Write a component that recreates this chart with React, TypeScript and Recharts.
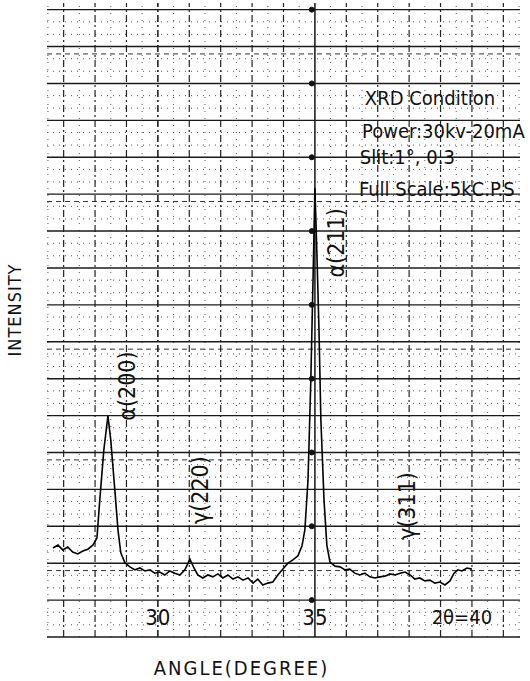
import {
  LineChart,
  Line,
  XAxis,
  YAxis,
  ReferenceLine,
  ReferenceDot,
} from "recharts";

// 2θ (degrees) and recorder intensity (in chart divisions)
const angles = [
  26.66, 26.82, 26.97, 27.13, 27.29, 27.45, 27.61, 27.77, 27.93, 28.06,
  28.15, 28.28, 28.41, 28.5, 28.63, 28.73, 28.82, 28.95, 29.11, 29.27,
  29.43, 29.59, 29.75, 29.9, 30.06, 30.22, 30.38, 30.54, 30.7, 30.86,
  31.02, 31.15, 31.27, 31.43, 31.59, 31.75, 31.91, 32.07, 32.23, 32.39,
  32.55, 32.71, 32.87, 33.03, 33.18, 33.34, 33.5, 33.66, 33.82, 33.98,
  34.14, 34.3, 34.46, 34.59, 34.68, 34.78, 34.87, 34.94, 35.0, 35.06,
  35.13, 35.19, 35.29, 35.38, 35.48, 35.64, 35.8, 35.96, 36.11, 36.27,
  36.43, 36.59, 36.75, 36.91, 37.07, 37.23, 37.39, 37.55, 37.71, 37.87,
  38.03, 38.18, 38.34, 38.5, 38.66, 38.82, 38.98, 39.14, 39.3, 39.43,
  39.55, 39.68, 39.84, 40.0,
];
const intensity = [
  2.41, 2.49, 2.36, 2.44, 2.3, 2.25, 2.33, 2.38, 2.49, 2.68,
  3.71, 5.07, 5.99, 5.34, 3.98, 2.9, 2.28, 2.01, 1.9, 1.82,
  1.87, 1.79, 1.82, 1.73, 1.76, 1.68, 1.79, 1.73, 1.68, 1.82,
  2.11, 1.87, 1.68, 1.6, 1.68, 1.63, 1.71, 1.6, 1.68, 1.57,
  1.63, 1.54, 1.6, 1.46, 1.57, 1.41, 1.46, 1.49, 1.68, 1.84,
  2.0, 2.09, 2.2, 2.47, 2.9, 4.25, 6.96, 9.67, 12.17, 10.49,
  8.32, 5.88, 3.71, 2.49, 2.03, 1.92, 1.9, 1.82, 1.84, 1.73,
  1.68, 1.73, 1.63, 1.6, 1.63, 1.65, 1.71, 1.68, 1.73, 1.76,
  1.68, 1.57, 1.6, 1.52, 1.54, 1.46, 1.49, 1.41, 1.52, 1.73,
  1.82, 1.79, 1.87, 1.84,
];

const majorRows = [0, 1, 2, 3, 4, 5, 6, 7, 8, 9, 10, 11, 12, 13, 14, 15, 16, 17];
const extraRows = [1.8, 4.8, 7.8, 11.8, 15.8];
const minorRows = [
  0.33, 0.67, 1.33, 1.67, 2.33, 2.67, 3.33, 3.67, 4.33, 4.67, 5.33, 5.67,
  6.33, 6.67, 7.33, 7.67, 8.33, 8.67, 9.33, 9.67, 10.33, 10.67, 11.33, 11.67,
  12.33, 12.67, 13.33, 13.67, 14.33, 14.67, 15.33, 15.67, 16.33, 16.67,
];
const majorCols = [27, 28, 29, 30, 31, 32, 33, 34, 35, 36, 37, 38, 39, 40, 41];
const minorCols = [
  26.5, 27.5, 28.5, 29.5, 30.5, 31.5, 32.5, 33.5, 34.5, 35.5, 36.5, 37.5,
  38.5, 39.5, 40.5, 41.5,
];
const timeMarks = [1, 3, 5, 7, 9, 11, 13, 15, 17];

const angleTicks = [
  { x: 30, label: "30" },
  { x: 35, label: "35" },
  { x: 39.68, label: "2θ=40" },
];
const peakLabels = [
  { x: 29.01, y: 6.8, label: "α(200)" },
  { x: 31.34, y: 3.98, label: "γ(220)" },
  { x: 35.67, y: 10.68, label: "α(211)" },
  { x: 37.93, y: 3.55, label: "γ(311)" },
];
const conditionLines = [
  { x: 36.59, y: 14.42, label: "XRD Condition" },
  { x: 36.5, y: 13.52, label: "Power:30kv-20mA" },
  { x: 36.43, y: 12.82, label: "Slit:1°, 0.3" },
  { x: 36.4, y: 11.95, label: "Full Scale:5kC.P.S" },
];

const data = angles.map((a, i) => ({ angle: a, intensity: intensity[i] }));

const FONT =
  "'DejaVu Sans Condensed', 'Liberation Sans Narrow', 'DejaVu Sans', sans-serif";
const INK = "#111";

function Tag(props: any) {
  const { viewBox, text, rotate, anchor, size } = props;
  const x = viewBox.x + (viewBox.width || 0) / 2;
  const y = viewBox.y + (viewBox.height || 0) / 2;
  return (
    <text
      x={x}
      y={y}
      fill={INK}
      fontFamily={FONT}
      fontStretch="condensed"
      fontSize={size ?? 18}
      textAnchor={anchor ?? "middle"}
      dominantBaseline={anchor === "start" ? "alphabetic" : "central"}
      transform={rotate ? `rotate(-90, ${x}, ${y})` : undefined}
    >
      {text}
    </text>
  );
}

function XTitle(props: any) {
  const { x, y, width } = props.viewBox;
  return (
    <text
      x={x + width / 2 - 42}
      y={y + 38}
      fill={INK}
      fontFamily={FONT}
      fontStretch="condensed"
      fontSize={20}
      letterSpacing={2}
      textAnchor="middle"
    >
      ANGLE(DEGREE)
    </text>
  );
}

function YTitle(props: any) {
  const { y, height } = props.viewBox;
  const cx = 14;
  const cy = y + height / 2 - 10;
  return (
    <text
      x={cx}
      y={cy}
      fill={INK}
      fontFamily={FONT}
      fontStretch="condensed"
      fontSize={18}
      letterSpacing={1}
      textAnchor="middle"
      dominantBaseline="central"
      transform={`rotate(-90, ${cx}, ${cy})`}
    >
      INTENSITY
    </text>
  );
}

export default function App() {
  return (
    <div style={{ position: "absolute", left: 0, top: 0, background: "#fff" }}>
      <LineChart
        width={530}
        height={681}
        data={data}
        margin={{ top: 3, right: 10, bottom: 0, left: 0 }}
      >
        <XAxis
          type="number"
          dataKey="angle"
          domain={[26.47, 41.53]}
          allowDataOverflow
          height={44}
          axisLine={false}
          tickLine={false}
          tick={false}
          label={<XTitle />}
        />
        <YAxis
          type="number"
          domain={[0, 17.18]}
          allowDataOverflow
          width={47}
          axisLine={false}
          tickLine={false}
          tick={false}
          label={<YTitle />}
        />

        {minorRows.map((v) => (
          <ReferenceLine key={"mr" + v} y={v} stroke="#555" strokeWidth={1} strokeDasharray="1 5" />
        ))}
        {minorCols.map((v) => (
          <ReferenceLine key={"mc" + v} x={v} stroke="#555" strokeWidth={1} strokeDasharray="1 6" />
        ))}
        {extraRows.map((v) => (
          <ReferenceLine key={"er" + v} y={v} stroke="#333" strokeWidth={1} strokeDasharray="5 4" />
        ))}
        {majorCols.map((v) => (
          <ReferenceLine
            key={"c" + v}
            x={v}
            stroke="#222"
            strokeWidth={v === 30 || v === 35 ? 1.6 : 1.2}
            strokeDasharray={v === 35 ? undefined : "7 3 2 3"}
          />
        ))}
        {majorRows.map((v) => (
          <ReferenceLine key={"r" + v} y={v} stroke="#1a1a1a" strokeWidth={1.4} />
        ))}
        {timeMarks.map((v) => (
          <ReferenceDot key={"t" + v} x={34.9} y={v} r={2.5} fill={INK} stroke={INK} />
        ))}

        <Line
          type="linear"
          dataKey="intensity"
          stroke="#000"
          strokeWidth={1.6}
          dot={false}
          isAnimationActive={false}
        />

        {angleTicks.map((t) => (
          <ReferenceDot
            key={t.label}
            x={t.x}
            y={0.54}
            r={0}
            fill="none"
            stroke="none"
            label={<Tag text={t.label} size={t.label.length > 2 ? 20 : 22} />}
          />
        ))}
        {peakLabels.map((p) => (
          <ReferenceDot
            key={p.label}
            x={p.x}
            y={p.y}
            r={0}
            fill="none"
            stroke="none"
            label={<Tag text={p.label} rotate size={23} />}
          />
        ))}
        {conditionLines.map((c, i) => (
          <ReferenceDot
            key={c.label}
            x={c.x}
            y={c.y}
            r={0}
            fill="none"
            stroke="none"
            label={<Tag text={c.label} anchor="start" size={i === 0 ? 20 : 20} />}
          />
        ))}
      </LineChart>
    </div>
  );
}
